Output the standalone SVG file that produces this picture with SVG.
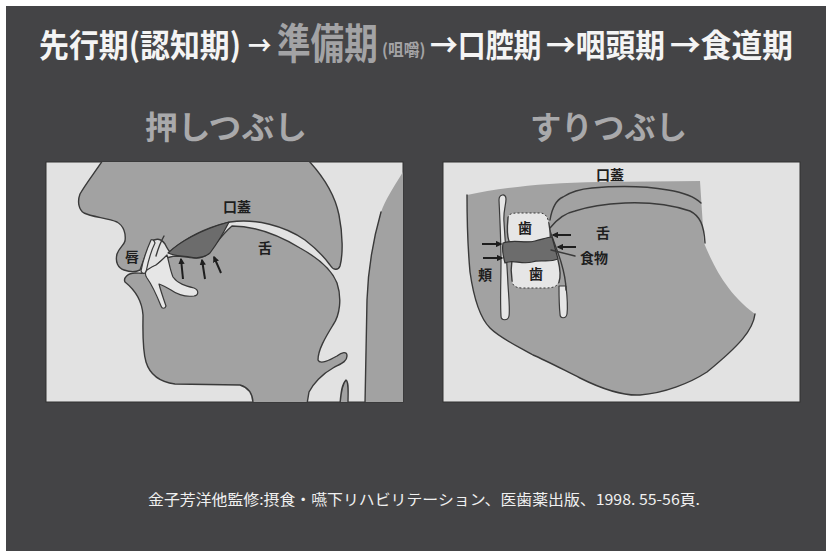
<svg xmlns="http://www.w3.org/2000/svg" width="826" height="551" viewBox="0 0 826 551">
  <style>
    .title { font-family: "Noto Sans CJK JP", "Noto Sans", sans-serif; font-weight: 700; fill: #f4f4f4; }
    .hl { fill: #a3a3a5; }
    .sub { font-family: "Noto Sans CJK JP", "Noto Sans", sans-serif; font-weight: 700; font-size: 32px; fill: #a9a9ab; }
    .panel { fill: #e2e2e2; stroke: #303030; stroke-width: 1; }
    .tissue { fill: #a2a2a2; stroke: #3a3a3a; stroke-width: 1.4; stroke-linejoin: round; }
    .fillonly { fill: #a2a2a2; stroke: none; }
    .edge { fill: none; stroke: #3a3a3a; stroke-width: 1.4; stroke-linecap: round; }
    .light { fill: #e6e6e6; stroke: #3a3a3a; stroke-width: 1.2; stroke-linejoin: round; }
    .lightfill { fill: #e6e6e6; stroke: none; }
    .dash { fill: none; stroke: #3a3a3a; stroke-width: 1; stroke-dasharray: 2 2; }
    .bolus { fill: #6c6c6c; stroke: #333; stroke-width: 1.2; stroke-linejoin: round; }
    .arrow { fill: none; stroke: #1e1e1e; stroke-width: 2; marker-end: url(#head); }
    .lbl { font-family: "Noto Sans CJK JP", "Noto Sans", sans-serif; font-weight: 700; font-size: 14px; fill: #1e1e1e; text-anchor: middle; }
    .foot { font-family: "Noto Sans CJK JP", "Noto Sans", sans-serif; font-size: 15px; fill: #f0f0f0; }
  </style>
  <defs>
    <marker id="head" viewBox="0 0 10 10" refX="8" refY="5" markerWidth="3.2" markerHeight="3.2" orient="auto">
      <path d="M0,0 L10,5 L0,10 Z" fill="#1e1e1e"/>
    </marker>
    <clipPath id="clipL"><rect x="46" y="162" width="357" height="240"/></clipPath>
    <clipPath id="clipR"><rect x="443" y="162" width="357" height="240"/></clipPath>
  </defs>

  <!-- backdrop -->
  <rect width="826" height="551" fill="#ffffff"/>
  <rect x="6" y="6" width="820" height="545" fill="#444446"/>

  <!-- heading: condensed gothic, the preparatory stage set larger in grey -->
  <g id="heading">
    <text class="title" font-size="32" transform="translate(39,57) scale(0.935,1)">先行期(認知期)</text>
    <text class="title" font-size="26" transform="translate(248,55) scale(0.9,1)">→</text>
    <text class="title hl" font-size="42" transform="translate(277,59) scale(0.8,1)">準備期</text>
    <text class="title hl" font-size="17" transform="translate(382,56) scale(0.93,1)">(咀嚼)</text>
    <text class="title" font-size="32" transform="translate(430,57) scale(0.87,1)">→口腔期</text>
    <text class="title" font-size="32" transform="translate(546,57) scale(0.93,1)">→咽頭期</text>
    <text class="title" font-size="32" transform="translate(670,57) scale(0.96,1)">→食道期</text>
  </g>

  <text id="sub-left" class="sub" x="145" y="139" textLength="162" lengthAdjust="spacingAndGlyphs">押しつぶし</text>
  <text id="sub-right" class="sub" x="530" y="139" textLength="157" lengthAdjust="spacingAndGlyphs">すりつぶし</text>

  <!-- left: crushing against the palate, sagittal section -->
  <g id="panel-left">
    <rect class="panel" x="46" y="162" width="357" height="240"/>
    <g clip-path="url(#clipL)">
      <!-- tongue, jaw and neck -->
      <path id="tongue-jaw" class="tissue" d="M125,282 C123,278 128,273 135,273 C140,273 145,274 148,272 L160,262 C165,258 170,256 178,256 C190,257 198,260 205,256 C212,250 220,236 232,226 C255,226 280,236 300,248 C318,258 332,270 337,283 C342,298 340,315 333,325 C325,338 318,350 318,360 C320,365 330,360 337,356 C342,352 347,351 347,356 C347,362 340,364 333,368 C322,374 313,384 309,392 L307,404 L253,404 C253,395 250,388 240,385 L175,384 C160,382 150,375 146,362 C142,348 143,330 143,315 C142,300 135,290 125,282 Z"/>
      <!-- head above the oral cavity -->
      <path id="head-upper" class="tissue" d="M103,160 C95,172 85,185 80,194 C77,202 79,210 84,213 C92,217 108,218 117,222 C124,226 126,234 125,241 C124,245 119,248 117,254 C115,262 118,268 124,270 C130,272 136,272 140,270 C143,262 147,250 151,242 C155,238 161,238 165,244 C167,248 168,250 170,252 C185,238 205,228 230,222 C255,218 285,226 305,240 C318,250 325,258 330,265 C333,270 338,271 340,266 C343,255 343,235 339,215 C335,195 322,175 308,160 Z"/>
      <!-- posterior pharyngeal wall -->
      <path class="fillonly" d="M404,170 C395,185 385,200 381,212 C373,240 368,270 367,300 L365,404 L404,404 Z"/>
      <path class="edge" d="M381,212 C373,240 368,270 367,300 L365,404"/>
      <!-- larynx -->
      <path class="tissue" d="M340,404 C341,392 342,384 346,380 C349,382 348,392 348,404 Z"/>
      <!-- bolus pressed on the palate -->
      <path id="bolus-left" class="bolus" d="M168,253 C178,243 200,230 229,222 C224,232 216,245 210,253 C205,257 198,259 190,257 C182,256 174,256 168,253 Z"/>
      <!-- incisors and floor of mouth -->
      <path class="light" d="M151,240 C147,249 143,260 141,271 C142,274 145,274 146,272 C148,262 151,251 155,243 C154,240 152,239 151,240 Z"/>
      <path class="edge" d="M164,236 C160,243 158,249 156,256"/>
      <path class="light" d="M147,270 C150,268 153,266 156,265 C160,262 164,258 167,255 C169,262 170,270 173,277 C178,284 186,286 194,288 C199,290 199,295 194,296 C186,297 178,295 171,290 C166,287 162,285 159,284 C161,292 164,300 166,306 C165,309 162,309 161,306 C157,296 152,285 147,278 C145,275 145,272 147,270 Z"/>
    </g>
    <g id="arrows-left">
      <line class="arrow" x1="183" y1="279" x2="181" y2="259"/>
      <line class="arrow" x1="205" y1="279" x2="202" y2="260"/>
      <line class="arrow" x1="221" y1="273" x2="214" y2="257"/>
    </g>
    <text class="lbl" x="237" y="212" font-size="15">口蓋</text>
    <text class="lbl" x="265" y="253">舌</text>
    <text class="lbl" x="132" y="262">唇</text>
  </g>

  <!-- right: grinding between the molars, frontal section -->
  <g id="panel-right">
    <rect class="panel" x="443" y="162" width="357" height="240"/>
    <g clip-path="url(#clipR)">
      <path class="fillonly" d="M467,195 C500,188 540,183 600,182 L700,181 L704,243 C712,262 725,292 755,314 C753,330 740,345 707,372 C690,383 665,393 640,395 C620,396 600,388 580,378 C560,368 545,360 533,355 C515,345 500,338 490,328 C480,318 474,300 470,272 C468,250 467,220 467,195 Z"/>
      <path class="edge" d="M467,195 C467,220 468,250 470,272 C474,300 480,318 490,328 C500,338 515,345 533,355 C545,360 560,368 580,378 C600,388 620,396 640,395 C665,393 690,383 707,372 C740,345 753,330 755,314"/>
      <!-- palate and tongue surface -->
      <path class="edge" d="M550,220 C552,208 556,200 563,197 C572,191 580,189 592,188 C615,186 645,186 668,190 C686,193 696,198 701,203"/>
      <path class="edge" d="M550,228 C558,218 565,213 575,211 C590,206 605,204 625,203 C650,202 672,205 690,211 C700,216 704,225 705,243"/>
      <!-- cheek mucosa -->
      <path class="light" d="M499,200 C499,194 506,193 506,199 C506,205 503,212 504,222 C505,240 507,262 508,285 C509,300 510,310 509,316 C508,321 501,321 501,316 C500,300 501,280 501,262 C501,240 500,222 499,200 Z"/>
      <!-- lingual gum -->
      <path class="light" d="M559,286 L566,286 C567,295 568,306 567,314 C566,319 560,319 560,314 C559,305 559,295 559,286 Z"/>
      <path class="edge" d="M549,228 C553,240 558,252 561,262 C564,272 566,280 566,290"/>
      <!-- upper tooth -->
      <path class="lightfill" d="M508,218 C508,214 512,213 518,213 L540,213 C546,213 548,218 549,224 C550,230 551,236 550,241 L509,241 C507,236 507,228 508,218 Z"/>
      <path class="edge" d="M508,218 C507,228 507,236 509,241"/>
      <path class="edge" d="M549,224 C550,230 551,236 550,241"/>
      <path class="dash" d="M508,218 C508,214 512,213 518,213 L540,213 C546,213 548,218 549,224"/>
      <!-- lower tooth -->
      <path class="lightfill" d="M512,260 L558,260 C560,268 561,276 559,282 C557,287 552,288 545,288 L522,288 C515,288 512,285 512,280 C511,274 511,266 512,260 Z"/>
      <path class="edge" d="M512,260 C511,266 511,274 512,280"/>
      <path class="edge" d="M558,260 C560,268 561,276 559,282"/>
      <path class="dash" d="M512,280 C512,285 515,288 522,288 L545,288 C552,288 557,287 559,282"/>
      <!-- food between the teeth -->
      <path id="bolus-right" class="bolus" d="M503,243 C515,239 525,244 535,241 C543,239 548,237 552,237 C554,244 556,252 558,259 C548,263 540,259 532,262 C522,265 512,259 505,263 C503,256 502,249 503,243 Z"/>
      <line class="edge" x1="551" y1="250" x2="575" y2="256" stroke-width="1"/>
    </g>
    <g id="arrows-right">
      <line class="arrow" x1="482" y1="244" x2="501" y2="244"/>
      <line class="arrow" x1="483" y1="258" x2="502" y2="258"/>
      <line class="arrow" x1="571" y1="235" x2="553" y2="235"/>
      <line class="arrow" x1="576" y1="247" x2="558" y2="247"/>
    </g>
    <text class="lbl" x="610" y="180">口蓋</text>
    <text class="lbl" x="603" y="238">舌</text>
    <text class="lbl" x="594" y="263">食物</text>
    <text class="lbl" x="485" y="280">頬</text>
    <text class="lbl" x="525" y="233">歯</text>
    <text class="lbl" x="536" y="279">歯</text>
  </g>

  <text id="citation" class="foot" x="148" y="505" textLength="552" lengthAdjust="spacingAndGlyphs">金子芳洋他監修:摂食・嚥下リハビリテーション、医歯薬出版、1998. 55-56頁.</text>
</svg>
